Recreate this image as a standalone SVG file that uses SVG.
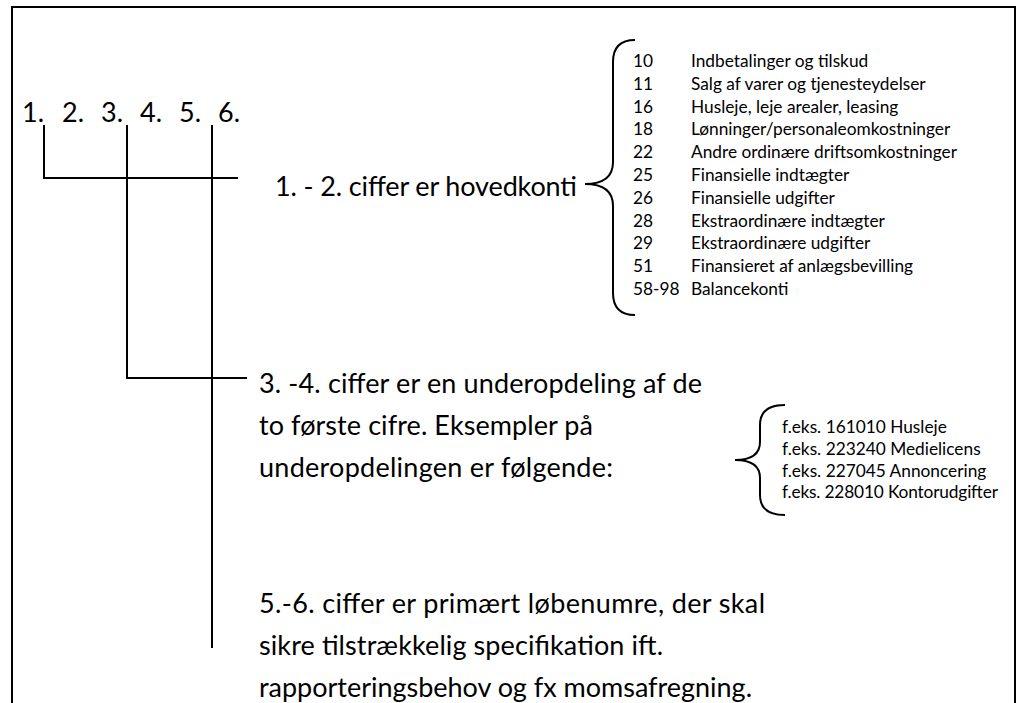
<svg xmlns="http://www.w3.org/2000/svg" width="1017" height="703" viewBox="0 0 1017 703">
<style>
.t{font-family:Lato,"Liberation Sans",sans-serif;fill:#000}
.big{font-size:27px}
.sm{font-size:17.3px}
.ln{fill:none;stroke:#000;stroke-width:2}
</style>
<rect width="1017" height="703" fill="#fff"/>
<path class="ln" d="M12,710 V7 H1015 V710" stroke-width="1.5"/>
<g id="digits" class="t big">
<text x="22" y="122">1.</text><text x="62" y="122">2.</text><text x="101" y="122">3.</text><text x="140" y="122">4.</text><text x="179" y="122">5.</text><text x="218" y="122">6.</text>
</g>
<g id="connectors">
<path class="ln" d="M44,125 V178 H238"/>
<path class="ln" d="M127,125 V378 H247"/>
<path class="ln" d="M212,125 V648"/>
</g>
<g id="hovedkonti">
<text class="t big" x="275" y="196" textLength="302">1. - 2. ciffer er hovedkonti</text>
<path class="ln" d="M635,40 Q613,40 613,62 V162 Q613,184 585,184 Q613,184 613,206 V293 Q613,315 635,315" stroke-width="1.8"/>
<g class="t sm">
<text x="633" y="67">10</text><text x="691" y="67">Indbetalinger og tilskud</text>
<text x="633" y="90">11</text><text x="691" y="90">Salg af varer og tjenesteydelser</text>
<text x="633" y="113">16</text><text x="691" y="113">Husleje, leje arealer, leasing</text>
<text x="633" y="135">18</text><text x="691" y="135">Lønninger/personaleomkostninger</text>
<text x="633" y="158">22</text><text x="691" y="158">Andre ordinære driftsomkostninger</text>
<text x="633" y="181">25</text><text x="691" y="181">Finansielle indtægter</text>
<text x="633" y="204">26</text><text x="691" y="204">Finansielle udgifter</text>
<text x="633" y="227">28</text><text x="691" y="227">Ekstraordinære indtægter</text>
<text x="633" y="249">29</text><text x="691" y="249">Ekstraordinære udgifter</text>
<text x="633" y="272">51</text><text x="691" y="272">Finansieret af anlægsbevilling</text>
<text x="633" y="295">58-98</text><text x="691" y="295">Balancekonti</text>
</g>
</g>
<g id="underopdeling">
<text class="t big" x="259" y="393" textLength="443">3. -4. ciffer er en underopdeling af de</text>
<text class="t big" x="259" y="435" textLength="334">to første cifre. Eksempler på</text>
<text class="t big" x="259" y="477" textLength="354">underopdelingen er følgende:</text>
<path class="ln" d="M785,405 Q760,405 760,425 V442 Q760,460 735,460 Q760,460 760,478 V495 Q760,515 785,515" stroke-width="1.8"/>
<g class="t sm" font-size="16.8">
<text x="782" y="433">f.eks. 161010 Husleje</text>
<text x="782" y="455">f.eks. 223240 Medielicens</text>
<text x="782" y="477">f.eks. 227045 Annoncering</text>
<text x="782" y="498" textLength="216">f.eks. 228010 Kontorudgifter</text>
</g>
</g>
<g id="loebenumre">
<text class="t big" x="259" y="613" textLength="506">5.-6. ciffer er primært løbenumre, der skal</text>
<text class="t big" x="259" y="655" textLength="404">sikre tilstrækkelig specifikation ift.</text>
<text class="t big" x="259" y="697" textLength="493">rapporteringsbehov og fx momsafregning.</text>
</g>
</svg>
